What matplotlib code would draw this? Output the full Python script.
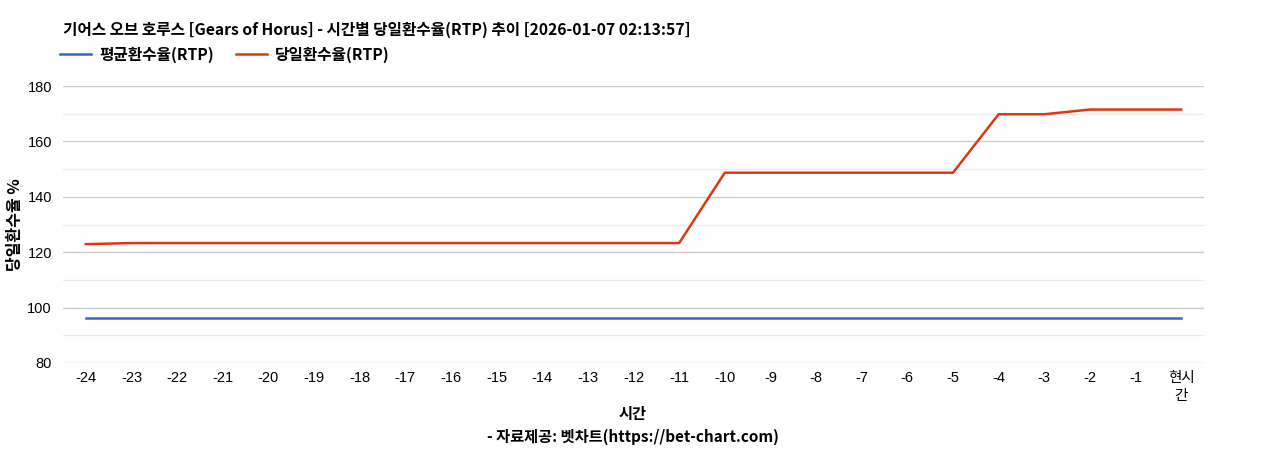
import matplotlib
matplotlib.use("Agg")
import matplotlib.pyplot as plt
from matplotlib.ticker import MultipleLocator

plt.rcParams['font.family'] = ['Noto Sans CJK KR', 'DejaVu Sans']

title = "기어스 오브 호루스 [Gears of Horus] - 시간별 당일환수율(RTP) 추이 [2026-01-07 02:13:57]"
categories = ["-24", "-23", "-22", "-21", "-20", "-19", "-18", "-17", "-16", "-15", "-14", "-13",
              "-12", "-11", "-10", "-9", "-8", "-7", "-6", "-5", "-4", "-3", "-2", "-1", "현시\n간"]
avg_rtp = [96.2] * 25
daily_rtp = [122.9, 123.3, 123.3, 123.3, 123.3, 123.3, 123.3, 123.3, 123.3, 123.3, 123.3, 123.3,
             123.3, 123.3, 148.7, 148.7, 148.7, 148.7, 148.7, 148.7, 169.8, 169.8, 171.5, 171.5, 171.5]
series_names = ["평균환수율(RTP)", "당일환수율(RTP)"]
colors = ["#3366cc", "#dc3912"]

W, H = 1268, 450
fig = plt.figure(figsize=(W / 100, H / 100), dpi=100)
ax = fig.add_axes([63 / W, 1 - 363 / H, (1204 - 63) / W, (363 - 86) / H])

x = list(range(len(categories)))
ax.plot(x, avg_rtp, color=colors[0], lw=1.8, label=series_names[0], zorder=3)
ax.plot(x, daily_rtp, color=colors[1], lw=1.8, label=series_names[1], zorder=3)

ax.set_xlim(-0.5, len(categories) - 0.5)
ax.set_ylim(80, 180)
ax.yaxis.set_major_locator(MultipleLocator(20))
ax.yaxis.set_minor_locator(MultipleLocator(10))
ax.grid(which='major', axis='y', color='#cccccc', lw=1)
ax.grid(which='minor', axis='y', color='#ebebeb', lw=1)
for s in ax.spines.values():
    s.set_visible(False)
ax.tick_params(axis='both', which='both', length=0)
ax.set_xticks(x)
ax.set_xticklabels(categories, family=['Liberation Sans', 'Noto Sans CJK KR'], fontsize=10.5,
                   linespacing=1.35)
ax.tick_params(axis='x', pad=6)
ax.tick_params(axis='y', pad=8)
for lab in ax.get_yticklabels():
    lab.set_family(['Liberation Sans', 'Noto Sans CJK KR'])
    lab.set_fontsize(10.5)

fig.text(63 / W, 1 - 30 / H, title, fontsize=11.3, fontweight='bold', va='center', ha='left')

# legend
leg = fig.legend(loc='center left', bbox_to_anchor=(60 / W, 1 - 55 / H), ncol=2, frameon=False,
                 prop={'weight': 'bold', 'size': 11.3}, handlelength=2.0, handletextpad=0.5,
                 columnspacing=1.4, borderaxespad=0, borderpad=0)

fig.text(15 / W, 1 - 225 / H, "당일환수율 %", rotation=90, fontsize=11.5, fontweight='bold',
         va='center', ha='center')
fig.text(633 / W, 1 - 414 / H, "시간", fontsize=11, fontweight='bold', va='center', ha='center')
fig.text(633 / W, 1 - 437 / H, "- 자료제공: 벳차트(https://bet-chart.com)", fontsize=11,
         fontweight='bold', va='center', ha='center')

fig.savefig("out.png", dpi=100)
